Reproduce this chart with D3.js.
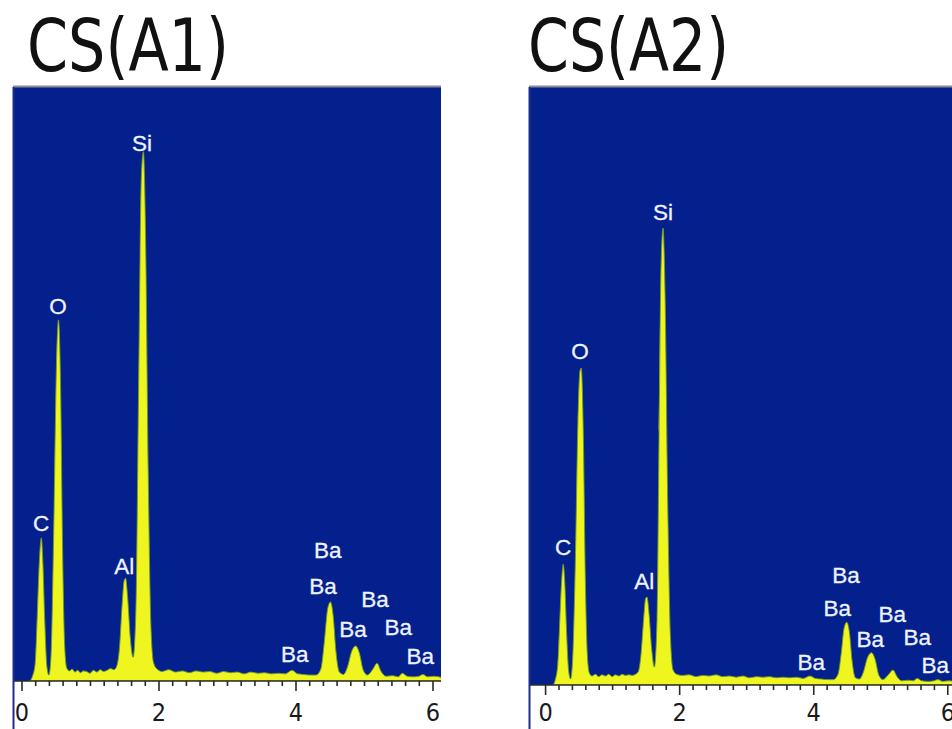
<!DOCTYPE html>
<html>
<head>
<meta charset="utf-8">
<script src="https://cdn.jsdelivr.net/npm/d3@7"></script>
<style>
  html, body { margin: 0; padding: 0; background: #ffffff; }
  svg { display: block; }
</style>
</head>
<body>
<svg id="chart" width="952" height="729"></svg>
<script>
// ---------------- DATA ----------------
const panelTitles = ["CS(A1)", "CS(A2)"];
const majorTicks = [0, 2, 4, 6];
const majorTickLabels = ["0", "2", "4", "6"];
const minorTicks = [0.2,0.4,0.6,0.8,1.0,1.2,1.4,1.6,1.8,2.2,2.4,2.6,2.8,3.0,3.2,3.4,3.6,3.8,4.2,4.4,4.6,4.8,5.0,5.2,5.4,5.6,5.8];

// spectrum A1: [energy keV, counts]
const spectrumA1 = [
  [0.12,0],[0.16,8],[0.20,30],[0.23,110],[0.26,200],[0.29,241],[0.31,205],[0.34,100],[0.37,25],[0.40,10],
  [0.43,40],[0.47,250],[0.51,530],[0.54,608],[0.57,500],[0.60,220],[0.63,60],[0.66,22],[0.70,17],[0.74,20],
  [0.78,15],[0.82,18],[0.86,14],[0.90,17],[0.95,16],[1.00,13],[1.05,18],[1.10,15],[1.15,19],[1.20,16],
  [1.25,18],[1.30,21],[1.35,19],[1.39,25],[1.43,55],[1.47,130],[1.50,170],[1.52,173],[1.55,140],[1.59,70],
  [1.63,40],[1.67,120],[1.71,500],[1.75,850],[1.78,891],[1.81,760],[1.85,350],[1.89,90],[1.93,30],[1.98,20],
  [2.05,16],[2.15,19],[2.25,15],[2.35,17],[2.45,14],[2.55,17],[2.65,15],[2.75,16],[2.85,13],[2.95,16],
  [3.05,14],[3.15,15],[3.25,12],[3.35,15],[3.45,13],[3.55,14],[3.65,12],[3.75,13],[3.85,12],[3.95,18],
  [4.03,12],[4.12,11],[4.22,10],[4.30,10],[4.37,20],[4.42,65],[4.47,122],[4.51,133],[4.55,110],[4.59,50],
  [4.64,15],[4.70,11],[4.76,24],[4.82,50],[4.88,59],[4.93,48],[4.99,18],[5.05,10],[5.13,20],[5.19,30],
  [5.25,16],[5.32,8],[5.42,9],[5.50,7],[5.56,13],[5.63,8],[5.72,7],[5.80,8],[5.86,11],[5.93,7],
  [6.02,8],[6.13,6]
];

// spectrum A2: [energy keV, counts]
const spectrumA2 = [
  [0.12,0],[0.15,8],[0.19,35],[0.22,110],[0.25,180],[0.27,202],[0.29,180],[0.32,90],[0.35,25],[0.38,10],
  [0.41,40],[0.45,200],[0.49,440],[0.52,525],[0.54,530],[0.57,420],[0.60,180],[0.63,50],[0.66,20],[0.70,15],
  [0.75,18],[0.80,14],[0.85,17],[0.90,15],[0.95,18],[1.00,14],[1.05,17],[1.10,15],[1.15,18],[1.20,16],
  [1.25,17],[1.30,16],[1.35,18],[1.39,22],[1.43,50],[1.47,110],[1.50,145],[1.52,147],[1.55,120],[1.59,60],
  [1.63,30],[1.67,110],[1.70,420],[1.73,700],[1.76,764],[1.79,650],[1.83,300],[1.87,80],[1.91,25],[1.96,18],
  [2.05,16],[2.15,17],[2.25,14],[2.35,16],[2.45,15],[2.55,17],[2.65,14],[2.75,15],[2.85,13],[2.95,15],
  [3.05,12],[3.15,14],[3.25,13],[3.35,14],[3.45,12],[3.55,13],[3.65,12],[3.75,13],[3.85,11],[3.95,15],
  [4.03,11],[4.12,10],[4.22,9],[4.30,9],[4.37,18],[4.42,55],[4.46,95],[4.50,105],[4.54,88],[4.58,40],
  [4.63,12],[4.69,10],[4.75,22],[4.81,46],[4.87,54],[4.92,44],[4.98,16],[5.04,9],[5.12,17],[5.19,25],
  [5.25,14],[5.32,7],[5.42,8],[5.49,7],[5.55,11],[5.62,7],[5.72,6],[5.80,7],[5.86,9],[5.93,6],
  [6.02,7],[6.10,6]
];

// peak labels: [text, energy keV, counts] (baseline centre)
const labelsA1 = [
  ["C",0.285,252],["O",0.533,618],["Si",1.76,893],["Al",1.50,180],
  ["Ba",4.47,207],["Ba",4.40,146],["Ba",5.16,125],["Ba",4.84,74],
  ["Ba",5.50,77],["Ba",3.99,32],["Ba",5.82,29]
];
const labelsA2 = [
  ["C",0.27,217],["O",0.52,545],["Si",1.76,778],["Al",1.48,161],
  ["Ba",4.49,171],["Ba",4.36,115],["Ba",5.18,105],["Ba",4.85,64],
  ["Ba",5.55,67],["Ba",3.97,25],["Ba",5.82,20]
];

// ---------------- LAYOUT ----------------
const panels = [
  { title: panelTitles[0], data: spectrumA1, labels: labelsA1,
    left: 13, right: 441, top: 87, axisY: 681, xDomain: [-0.124, 6.124],
    titleX: 27, titleLen: 202, tickPad: 12 },
  { title: panelTitles[1], data: spectrumA2, labels: labelsA2,
    left: 529, right: 952, top: 87, axisY: 685, xDomain: [-0.24, 6.07],
    titleX: 528, titleLen: 201, tickPad: 8 }
];

const BLUE = "#04208c";
const YELLOW = "#eef51f";
const svg = d3.select("#chart");
svg.append("rect").attr("width", 952).attr("height", 729).attr("fill", "#ffffff");

panels.forEach((p, i) => {
  const g = svg.append("g");
  const x = d3.scaleLinear().domain(p.xDomain).range([p.left, p.right]);
  const y = d3.scaleLinear().domain([0, 1000]).range([p.axisY, p.top]);

  // title
  g.append("text")
    .attr("x", p.titleX).attr("y", 71)
    .attr("font-family", "'Liberation Sans Narrow', 'DejaVu Sans Condensed', 'Liberation Sans', sans-serif")
    .attr("font-size", 73)
    .attr("fill", "#111")
    .attr("textLength", p.titleLen)
    .attr("lengthAdjust", "spacingAndGlyphs")
    .text(p.title);

  // plot background
  const clipId = "clip" + i;
  svg.append("clipPath").attr("id", clipId)
    .append("rect").attr("x", p.left).attr("y", p.top)
    .attr("width", p.right - p.left).attr("height", p.axisY - p.top);

  g.append("rect")
    .attr("x", p.left).attr("y", p.top)
    .attr("width", p.right - p.left).attr("height", p.axisY - p.top)
    .attr("fill", BLUE);
  g.append("line")
    .attr("x1", p.left).attr("x2", p.right)
    .attr("y1", p.top - 0.5).attr("y2", p.top - 0.5)
    .attr("stroke", "#8c8c98").attr("stroke-width", 2);

  // spectrum area
  const area = d3.area()
    .x(d => x(d[0]))
    .y0(y(0))
    .y1(d => y(d[1]))
    .curve(d3.curveMonotoneX);
  g.append("path")
    .datum(p.data)
    .attr("clip-path", `url(#${clipId})`)
    .attr("d", area)
    .attr("fill", YELLOW)
    .attr("stroke", "#6f9a26")
    .attr("stroke-width", 0.9);

  // labels
  g.selectAll("text.lbl").data(p.labels).join("text")
    .attr("class", "lbl")
    .attr("x", d => x(d[1]))
    .attr("y", d => y(d[2]))
    .attr("text-anchor", "middle")
    .attr("font-family", "'Liberation Sans', Arial, sans-serif")
    .attr("font-size", 22.5)
    .attr("fill", "#eef3ff")
    .attr("stroke", "#eef3ff")
    .attr("stroke-width", 0.3)
    .text(d => d[0]);

  // axes
  const axisMinor = d3.axisBottom(x).tickValues(minorTicks).tickSizeInner(5).tickSizeOuter(0).tickFormat("");
  const axisMajor = d3.axisBottom(x).tickValues(majorTicks).tickSizeInner(10).tickSizeOuter(0)
    .tickPadding(p.tickPad).tickFormat((d, k) => majorTickLabels[k]);

  const gMin = g.append("g").attr("transform", `translate(0,${p.axisY})`).call(axisMinor);
  const gMaj = g.append("g").attr("transform", `translate(0,${p.axisY})`).call(axisMajor);
  [gMin, gMaj].forEach(a => {
    a.select(".domain").remove();
    a.selectAll(".tick line").attr("stroke", "#2a2a2a").attr("stroke-width", 1.6);
  });
  gMaj.selectAll(".tick text")
    .attr("font-family", "'Liberation Sans Narrow', 'DejaVu Sans Condensed', 'Liberation Sans', sans-serif")
    .attr("font-size", 25)
    .attr("fill", "#1a1a1a");

  g.append("line")
    .attr("x1", p.left).attr("x2", p.right)
    .attr("y1", p.axisY).attr("y2", p.axisY)
    .attr("stroke", "#2a2a2a").attr("stroke-width", 1.5);

  // left border line continuing below the plot
  g.append("line")
    .attr("x1", p.left + 0.5).attr("x2", p.left + 0.5)
    .attr("y1", p.top).attr("y2", 729)
    .attr("stroke", "#1c2f8c").attr("stroke-width", 2);
});
</script>
</body>
</html>
